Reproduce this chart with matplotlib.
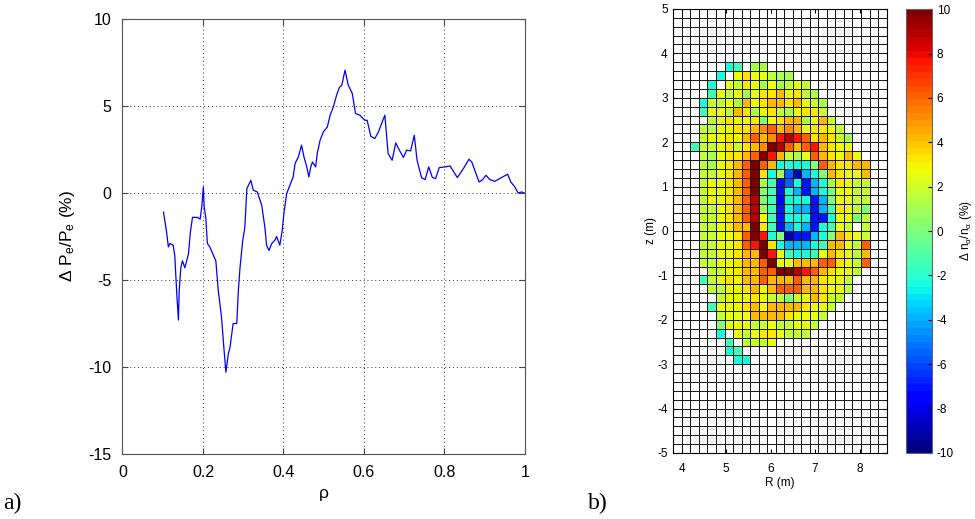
import numpy as np
import matplotlib
matplotlib.use('Agg')
import matplotlib.pyplot as plt

plt.rcParams['font.family'] = ['Liberation Sans', 'DejaVu Sans']
plt.rcParams['mathtext.fontset'] = 'custom'
plt.rcParams['mathtext.rm'] = 'Liberation Sans'
plt.rcParams['mathtext.it'] = 'Liberation Sans'
plt.rcParams['axes.unicode_minus'] = False

# panel a) : pressure perturbation profile
rho = [0.102, 0.110, 0.114, 0.118, 0.126, 0.130, 0.135, 0.139, 0.141, 0.145,
       0.149, 0.155, 0.164, 0.169, 0.174, 0.186, 0.193, 0.197, 0.201, 0.203,
       0.207, 0.211, 0.217, 0.232, 0.238, 0.246, 0.252, 0.257, 0.263, 0.267,
       0.275, 0.284, 0.288, 0.292, 0.299, 0.304, 0.309, 0.319, 0.325, 0.335,
       0.346, 0.354, 0.358, 0.364, 0.371, 0.379, 0.383, 0.391, 0.397, 0.401,
       0.408, 0.416, 0.424, 0.429, 0.437, 0.445, 0.451, 0.458, 0.463, 0.468,
       0.472, 0.480, 0.484, 0.491, 0.499, 0.509, 0.516, 0.524, 0.532, 0.539,
       0.545, 0.553, 0.561, 0.571, 0.579, 0.590, 0.602, 0.608, 0.617, 0.627,
       0.636, 0.644, 0.652, 0.660, 0.670, 0.679, 0.688, 0.698, 0.706, 0.716,
       0.725, 0.732, 0.743, 0.752, 0.761, 0.770, 0.778, 0.787, 0.801, 0.814,
       0.832, 0.847, 0.861, 0.868, 0.886, 0.895, 0.903, 0.913, 0.925, 0.942,
       0.957, 0.965, 0.975, 0.983, 0.992, 0.998]
dpe = [-1.1, -2.3, -3.1, -2.9, -3.0, -3.6, -5.8, -7.3, -5.6, -4.3,
       -3.9, -4.3, -3.5, -2.2, -1.4, -1.4, -1.5, -0.8, 0.35, -0.8,
       -1.4, -2.9, -3.1, -3.9, -5.6, -7.1, -8.9, -10.3, -9.25, -8.9,
       -7.5, -7.5, -5.6, -4.3, -2.7, -2.0, 0.25, 0.73, 0.16, 0.06,
       -0.7, -2.0, -3.0, -3.3, -2.9, -2.7, -2.5, -3.0, -2.15, -1.2,
       -0.04, 0.44, 0.92, 1.7, 2.07, 2.75, 2.07, 1.5, 0.92, 1.5,
       1.78, 1.5, 2.27, 3.03, 3.51, 3.8, 4.47, 4.95, 5.62, 6.07,
       6.2, 7.06, 6.2, 5.72, 4.57, 4.47, 4.18, 4.18, 3.26, 3.13,
       3.51, 4.0, 4.47, 2.27, 1.88, 2.88, 2.46, 2.04, 2.46, 2.42,
       3.32, 1.88, 0.89, 0.77, 1.5, 0.89, 0.83, 1.46, 1.5, 1.55,
       0.89, 1.4, 1.94, 1.78, 0.63, 0.77, 1.02, 0.77, 0.67, 0.89,
       1.08, 0.63, 0.35, 0.0, 0.06, 0.0]

# panel b) : alpha density perturbation on the (R, z) grid
n = np.nan
R_lim = (3.808, 8.608)
n_cols, n_rows = 25, 50
first_row = 6   # counted from the top of the grid (z = 5)
# rows from z = 3.8 down to z = -3.0, 25 columns each
dna = [
    [n, n, n, n, n, n, -2.5, -1.5, n, 1, 1, n, n, n, n, n, n, n, n, n, n, n, n, n, n],
    [n, n, n, n, n, -2.5, n, 2.5, 3.3, 2.5, 2.5, 1.8, 1, 1, n, n, n, n, n, n, n, n, n, n, n],
    [n, n, n, n, -2.5, n, 2.5, 1.8, 3.3, 2.5, 1, 2.5, 1, 1.8, 2.5, 1.8, n, n, n, n, n, n, n, n, n],
    [n, n, n, n, -1.5, 2.5, 1.8, 2.5, 1, 2.5, 3.3, 3.3, 4.3, 2.5, 3.3, 1.8, 1, n, n, n, n, n, n, n, n],
    [n, n, n, -2.5, 1.8, 1.8, 2.5, 1, 4.3, 2.5, 3.3, 4.3, 4.3, 3.3, 4.3, 2.5, 1.8, 1, n, n, n, n, n, n, n],
    [n, n, n, -1.5, 2.5, 2.5, 1.8, 4.3, 3.3, 1, 2.5, 3.3, 1.8, 1, 2.5, 3.3, 3.3, 1.8, n, n, n, n, n, n, n],
    [n, n, n, n, 1.8, 2.5, 3.3, 2.5, 2.5, 3.3, 0, 2.5, 3.3, 4.3, 4.3, 1, 2.5, 4.3, 1.8, n, n, n, n, n, n],
    [n, n, n, 1.8, 1.8, 2.5, 2.5, 3.3, 3.3, 4.3, 5.2, 6, 4.3, 5.2, 4.3, 2.5, 3.3, 3.3, 2.5, 1.8, n, n, n, n, n],
    [n, n, n, 1.8, 2.5, 2.5, 3.3, 2.5, 4.3, 6, 4.3, 5.2, 7.5, 8.8, 7.5, 6, 3.3, 4.3, 3.3, 1.8, 1, n, n, n, n],
    [n, n, -1.5, 1.8, 1.8, 2.5, 3.3, 1.8, 3.3, 4.3, 5.2, 9.8, 8.8, 6, 4.3, 6, 7.5, 4.3, 3.3, 2.5, 2.5, n, n, n, n],
    [n, n, n, 1.8, 1, 2.5, 3.3, 3.3, 4.3, 6, 9.8, 7.5, 4.3, 1.8, 1, 2.5, 6, 4.3, 3.3, 2.5, 4.3, 2.5, n, n, n],
    [n, n, n, 1.8, 1, 2.5, 3.3, 4.3, 6, 9.8, 6, 4.3, -2.5, -2.5, -2.5, -2.5, 0, 6, 4.3, 3.3, 3.3, 4.3, 4.3, n, n],
    [n, n, n, 1.8, 1.8, 2.5, 3.3, 4.3, 6, 9.8, 3.3, -2.5, 1, -5.5, -9, -4, -2.5, 0, 4.3, 3.3, 2.5, 2.5, 4.3, n, n],
    [n, n, n, 1.8, 2.5, 2.5, 3.3, 4.3, 6, 9.8, 1, -1.5, -7, -5.5, -2.5, -7, -4, -2.5, 1, 3.3, 2.5, 1.8, 1.8, n, n],
    [n, n, n, 1.8, 2.5, 2.5, 3.3, 4.3, 6, 9.8, 0, -1.5, -7, -2.5, -4, -7, -4, -2.5, 0, 2.5, 2.5, 1.8, 1.8, n, n],
    [n, n, n, 1.8, 2.5, 2.5, 3.3, 4.3, 6, 8.8, 0, -1.5, -7.5, -2.5, -2.5, -2.5, -7, -4, 0, 2.5, 2.5, 1.8, 1.8, n, n],
    [n, n, n, 1.8, 1.8, 2.5, 3.3, 4.3, 6, 8.8, 1, -1.5, -7, -2.5, -4, -4, -7, -4, -1.5, 3.3, 2.5, 1.8, 0, n, n],
    [n, n, n, 1.8, 1.8, 2.5, 3.3, 4.3, 6, 8.8, 2.5, -1.5, -7, -2.5, -2.5, -2.5, -7, -7, -2.5, 2.5, 2.5, 0, 1.8, n, n],
    [n, n, n, 1.8, 1.8, 2.5, 3.3, 4.3, 4.3, 9.8, 3.3, -1.5, -7, -4, -2.5, -4, -7, -2.5, -1.5, 2.5, 1.8, n, 1.8, n, n],
    [n, n, n, 1.8, 1.8, 2.5, 2.5, 3.3, 6, 9.8, 7.5, -2.5, 0, -9, -7, -7, -4, -2.5, 0, 4.3, 3.3, 2.5, 1.8, n, n],
    [n, n, n, 1.8, 1.8, 2.5, 2.5, 3.3, 6, 7.5, 9.8, 3.3, -2.5, -4, -4, -4, -2.5, -1.5, 4.3, 4.3, 2.5, 1.8, 6, n, n],
    [n, n, n, 1.8, 1.8, 2.5, 2.5, 3.3, 4.3, 4.3, 9.8, 7.5, 2.5, -1.5, -2.5, -2.5, -1.5, 2.5, 4.3, 3.3, 2.5, 1.8, 4.3, n, n],
    [n, n, n, 1.8, 1.8, 2.5, 2.5, 3.3, 4.3, 4.3, 6, 9.8, 2.5, 2.5, 4.3, 4.3, 4.3, 6, 6, 3.3, 2.5, 1.8, 6, n, n],
    [n, n, n, n, 1.8, 1.8, 2.5, 3.3, 4.3, 4.3, 6, 6, 9.8, 9.8, 8.8, 7.5, 6, 4.3, 3.3, 2.5, 2.5, 1.8, n, n, n],
    [n, n, n, -1.5, 1.8, 2.5, 3.3, 2.5, 4.3, 4.3, 6, 4.3, 4.3, 4.3, 6, 4.3, 4.3, 3.3, 2.5, 2.5, 1.8, n, n, n, n],
    [n, n, n, n, 1.8, 1.8, 2.5, 2.5, 3.3, 4.3, 2.5, 4.3, 6, 6, 6, 4.3, 4.3, 3.3, 2.5, 2.5, 1.8, n, n, n, n],
    [n, n, n, n, n, 1.8, 2.5, 2.5, 2.5, 3.3, 2.5, 1.8, 1.8, 0, 1.8, 2.5, 4.3, 3.3, 1.8, 1.8, n, n, n, n, n],
    [n, n, n, n, -1.5, 2.5, 2.5, 2.5, 3.3, 4.3, 2.5, 4.3, 4.3, 4.3, 4.3, 3.3, 2.5, 2.5, 1.8, n, n, n, n, n, n],
    [n, n, n, n, n, 1.8, 2.5, 2.5, 2.5, 4.3, 4.3, 4.3, 4.3, 3.3, 2.5, 2.5, 2.5, 1.8, n, n, n, n, n, n, n],
    [n, n, n, n, n, 0, 2.5, 2.5, 2.5, 1.8, 1.8, 2.5, 1.8, 1.8, 2.5, 2.5, 1.8, n, n, n, n, n, n, n, n],
    [n, n, n, n, n, -2.5, n, 2.5, 1.8, 2.5, 3.3, 3.3, 2.5, 1.8, 1.8, 1.8, n, n, n, n, n, n, n, n, n],
    [n, n, n, n, n, n, -1.5, n, 1.8, 1.8, 1.8, 2.5, n, n, n, n, n, n, n, n, n, n, n, n, n],
    [n, n, n, n, n, n, -2.5, -1.5, n, n, n, n, n, n, n, n, n, n, n, n, n, n, n, n, n],
    [n, n, n, n, n, n, n, -2.5, -2.5, n, n, n, n, n, n, n, n, n, n, n, n, n, n, n, n],
]

grid = np.full((n_rows, n_cols), np.nan)
grid[first_row:first_row + len(dna)] = np.array(dna, dtype=float)
grid = np.flipud(grid)   # row 0 at z = -5
R_edges = np.linspace(R_lim[0], R_lim[1], n_cols + 1)
z_edges = np.linspace(-5, 5, n_rows + 1)

fig = plt.figure(figsize=(9.75, 5.19), dpi=100)

# ---- a)
ax1 = fig.add_axes([0.1256, 0.1252, 0.4128, 0.8382])
ax1.plot(rho, dpe, color='b', lw=0.9)
ax1.set_xlim(0, 1)
ax1.set_ylim(-15, 10)
ax1.set_xticks([0, 0.2, 0.4, 0.6, 0.8, 1])
ax1.set_xticklabels(['0', '0.2', '0.4', '0.6', '0.8', '1'])
ax1.set_yticks([-15, -10, -5, 0, 5, 10])
ax1.grid(True, linestyle=(0, (1, 3)), color='#333333', lw=0.7)
ax1.tick_params(direction='in', top=True, right=True, labelsize=11.5, length=4,
                color='#444444', pad=8)
for s in ax1.spines.values():
    s.set_color('#555555')
ax1.set_xlabel('ρ', fontsize=12.5, labelpad=4)
ax1.set_ylabel('Δ P$_\\mathrm{e}$/P$_\\mathrm{e}$ (%)', fontsize=12.5, labelpad=8)

# ---- b)
cmap = plt.get_cmap('jet', 64).copy()
cmap.set_bad('white')
ax2 = fig.add_axes([0.6906, 0.1272, 0.2187, 0.8555])
mesh = ax2.pcolormesh(R_edges, z_edges, np.ma.masked_invalid(grid), cmap=cmap,
                      vmin=-10, vmax=10, edgecolors='#1a1a1a', linewidth=0.45)
ax2.set_xlim(R_lim)
ax2.set_ylim(-5, 5)
ax2.set_xticks([4, 5, 6, 7, 8])
ax2.set_yticks(range(-5, 6))
ax2.tick_params(direction='in', top=True, right=True, labelsize=8.5, length=3,
                pad=7)
ax2.tick_params(axis='y', pad=4)
ax2.set_xlabel('R (m)', fontsize=8.5, labelpad=2)
ax2.set_ylabel('z (m)', fontsize=8.5, labelpad=0)

cax = fig.add_axes([0.929, 0.1272, 0.0273, 0.855])
cb = fig.colorbar(mesh, cax=cax, ticks=range(-10, 11, 2))
cb.outline.set_edgecolor('#666666')
cax.tick_params(direction='in', labelsize=8.5, length=3, pad=3)
cax.set_ylabel('Δ n$_\\alpha$/n$_\\alpha$ (%)', fontsize=8.5, labelpad=3)

fig.text(0.003, 0.02, 'a)', family='Liberation Serif', fontsize=17)
fig.text(0.603, 0.02, 'b)', family='Liberation Serif', fontsize=17)

fig.savefig('out.png', dpi=100)
